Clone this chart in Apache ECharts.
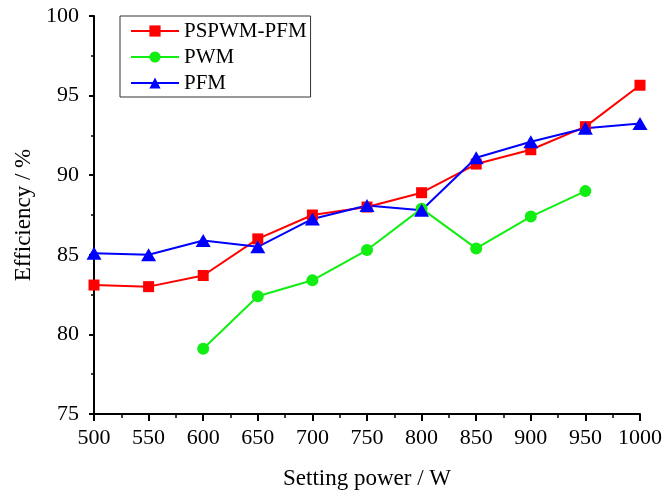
<!DOCTYPE html>
<html>
<head>
<meta charset="utf-8">
<script src="https://cdn.jsdelivr.net/npm/echarts@6/dist/echarts.min.js"></script>
<style>html,body{margin:0;padding:0;background:#fff}#c{width:664px;height:491px}</style>
</head>
<body>
<div id="c"></div>
<script>
var xValues = [500, 550, 600, 650, 700, 750, 800, 850, 900, 950, 1000];
var pspwmPfm = [83.1, 83.0, 83.7, 86.0, 87.5, 88.0, 88.9, 90.7, 91.6, 93.05, 95.65];
var pwm = [null, null, 79.1, 82.4, 83.4, 85.3, 87.9, 85.4, 87.4, 89.0, null];
var pfm = [85.1, 85.0, 85.9, 85.5, 87.25, 88.1, 87.8, 91.1, 92.1, 92.95, 93.25];
var seriesNames = ['PSPWM-PFM', 'PWM', 'PFM'];
var xTitle = 'Setting power / W';
var yTitle = 'Efficiency / %';

function pairs(arr) {
  var out = [];
  for (var i = 0; i < xValues.length; i++) {
    if (arr[i] !== null) out.push([xValues[i], arr[i]]);
  }
  return out;
}

var font = 'Liberation Serif, Times New Roman, serif';
var chart = echarts.init(document.getElementById('c'), null, {renderer: 'canvas'});
chart.setOption({
  animation: false,
  backgroundColor: '#fff',
  grid: {left: 94, right: 24, top: 16, bottom: 77, containLabel: false, outerBoundsMode: 'none'},
  legend: {
    orient: 'vertical',
    left: 120, top: 16,
    padding: [4, 4, 3, 10],
    itemWidth: 48, itemHeight: 14, itemGap: 4,
    borderColor: '#333', borderWidth: 1,
    textStyle: {fontFamily: font, fontSize: 21, color: '#000', lineHeight: 22, padding: [0, 0, 0, 0]},
    data: seriesNames
  },
  xAxis: {
    type: 'value', min: 500, max: 1000, interval: 50,
    name: xTitle, nameLocation: 'middle', nameGap: 53,
    nameTextStyle: {fontFamily: font, fontSize: 23, color: '#000'},
    axisLine: {onZero: false, lineStyle: {color: '#000', width: 2}},
    axisTick: {show: true, inside: false, length: 7, lineStyle: {color: '#000', width: 2}},
    minorTick: {show: true, splitNumber: 2, length: 4, lineStyle: {color: '#000', width: 1.5}},
    axisLabel: {fontFamily: font, fontSize: 22, color: '#000', margin: 13,
      formatter: function (v) { return String(v); }},
    splitLine: {show: false}
  },
  yAxis: {
    type: 'value', min: 75, max: 100, interval: 5,
    name: yTitle, nameLocation: 'middle', nameGap: 56, nameRotate: 90,
    nameTextStyle: {fontFamily: font, fontSize: 23, color: '#000'},
    axisLine: {show: true, onZero: false, lineStyle: {color: '#000', width: 2}},
    axisTick: {show: true, inside: false, length: 5, lineStyle: {color: '#000', width: 2}},
    minorTick: {show: true, splitNumber: 2, length: 3, lineStyle: {color: '#000', width: 1.5}},
    axisLabel: {fontFamily: font, fontSize: 22, color: '#000', margin: 15,
      formatter: function (v) { return String(v); }},
    splitLine: {show: false}
  },
  series: [
    {name: seriesNames[0], type: 'line', data: pairs(pspwmPfm), symbol: 'rect', symbolSize: 11,
     itemStyle: {color: '#ff0000'}, lineStyle: {color: '#ff0000', width: 2}},
    {name: seriesNames[1], type: 'line', data: pairs(pwm), symbol: 'circle', symbolSize: 12,
     itemStyle: {color: '#11ee11'}, lineStyle: {color: '#11ee11', width: 2}},
    {name: seriesNames[2], type: 'line', data: pairs(pfm), symbol: 'triangle', symbolSize: [15, 13],
     itemStyle: {color: '#0000ff'}, lineStyle: {color: '#0000ff', width: 2}}
  ]
});
</script>
</body>
</html>
